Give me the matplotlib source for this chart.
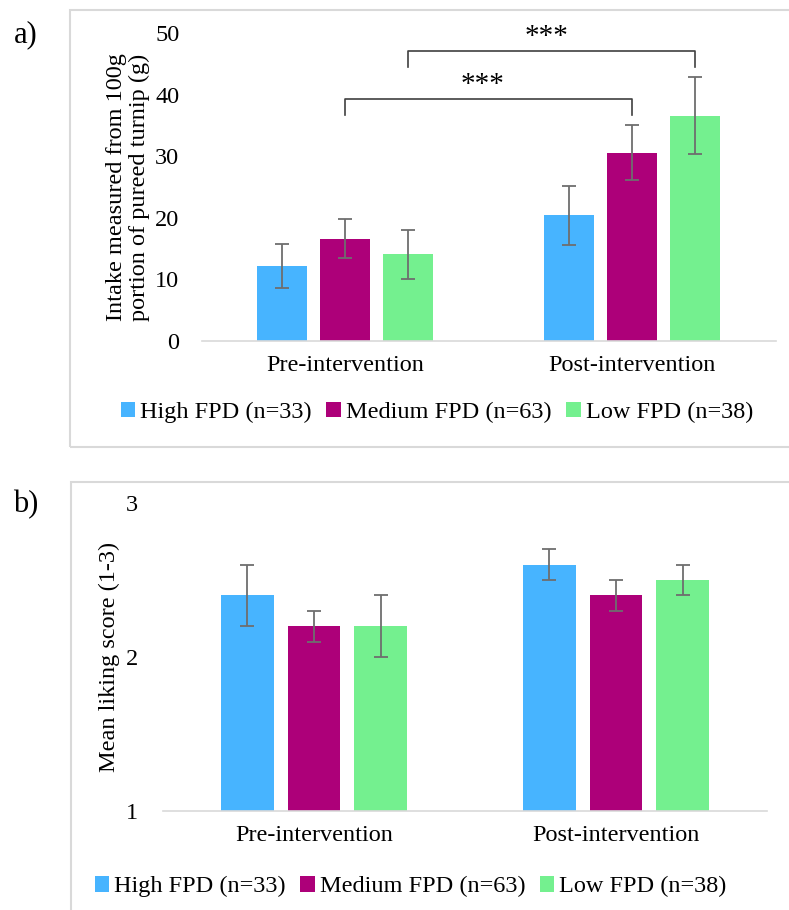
import matplotlib
matplotlib.use('Agg')
import matplotlib.pyplot as plt
from matplotlib.patches import Rectangle, Patch
import numpy as np

# data
phases = ["Pre-intervention", "Post-intervention"]
groups = ["High FPD (n=33)", "Medium FPD (n=63)", "Low FPD (n=38)"]
colors = ["#47B4FF", "#AD0079", "#74F08F"]

intake_mean = [[12.2, 20.4], [16.6, 30.6], [14.1, 36.6]]
intake_err = [[3.6, 4.8], [3.2, 4.5], [4.0, 6.2]]

liking_mean = [[2.4, 2.6], [2.2, 2.4], [2.2, 2.5]]
liking_err = [[0.2, 0.1], [0.1, 0.1], [0.2, 0.1]]

# significance brackets: (group index, start phase, end phase, height, label)
brackets = [(1, 0, 1, 39.3, "***"), (2, 0, 1, 47.1, "***")]

plt.rcParams['font.family'] = ['Liberation Serif', 'DejaVu Serif']
FS = 17.5
W, H = 789, 910

fig = plt.figure(figsize=(W / 100, H / 100), dpi=100)

# panel frames
for (x0, y0, x1, y1) in [(70, 10, 795, 447), (71, 482, 795, 915)]:
    fig.patches.append(Rectangle((x0 / W, 1 - y1 / H), (x1 - x0) / W, (y1 - y0) / H,
                                 transform=fig.transFigure, fill=False,
                                 edgecolor="#D9D9D9", linewidth=1.5))

fig.text(26 / W, 1 - 35 / H, "a)", fontsize=22, ha='center', va='center')
fig.text(26 / W, 1 - 505 / H, "b)", fontsize=22, ha='center', va='center')


def draw_panel(rect, means, errs, ylim, yticks, ylabel, label_x, tick_pad, leg_y):
    ax = fig.add_axes(rect)
    x = np.arange(len(phases))
    width = 0.174
    step = 0.221
    for i, g in enumerate(groups):
        ax.bar(x + (i - 1) * step, means[i], width, color=colors[i],
               yerr=errs[i], error_kw=dict(ecolor="#6E6E6E", elinewidth=1.3,
                                           capsize=5, capthick=1.3))
    ax.set_xlim(-0.5, 1.5)
    ax.set_ylim(*ylim)
    ax.set_yticks(yticks)
    ax.set_xticks(x)
    ax.set_xticklabels(phases, fontsize=FS)
    ax.tick_params(axis='y', length=0, labelsize=FS, pad=tick_pad)
    ax.tick_params(axis='x', length=0, pad=10)
    for s in ['top', 'right', 'left']:
        ax.spines[s].set_visible(False)
    ax.spines['bottom'].set_color("#D9D9D9")
    ax.spines['bottom'].set_linewidth(1.2)
    ax.set_ylabel(ylabel, fontsize=FS, linespacing=1.1)
    ax.yaxis.set_label_coords(label_x, 0.5)
    handles = [Patch(facecolor=c, edgecolor='none') for c in colors]
    ax.legend(handles, groups, loc='upper center', bbox_to_anchor=(0.41, leg_y),
              ncol=3, frameon=False, fontsize=FS, handlelength=0.6,
              handleheight=0.6, handletextpad=0.2, columnspacing=0.6,
              borderaxespad=0)
    return ax, x, step


# panel a
axa, xa, step = draw_panel([201.5 / W, 1 - 341 / H, 574 / W, 308 / H],
                           intake_mean, intake_err, (0, 50), [0, 10, 20, 30, 40, 50],
                           "Intake measured from 100g\nportion of pureed turnip (g)",
                           -0.09, 16, -0.165)
for gi, p0, p1, h, lab in brackets:
    x0 = xa[p0] + (gi - 1) * step
    x1 = xa[p1] + (gi - 1) * step
    axa.plot([x0, x0, x1, x1], [h - 2.6, h, h, h - 2.6], color="#404040",
             linewidth=1.2, clip_on=False)
    axa.text((x0 + x1) / 2 - 0.02, h + 0.1, lab, ha='center', va='bottom', fontsize=21)

# panel b
draw_panel([163 / W, 1 - 811 / H, 604 / W, 308 / H],
           liking_mean, liking_err, (1, 3), [1, 2, 3],
           "Mean liking score (1-3)", -0.071, 18, -0.18)

fig.savefig("out.png", dpi=100)
